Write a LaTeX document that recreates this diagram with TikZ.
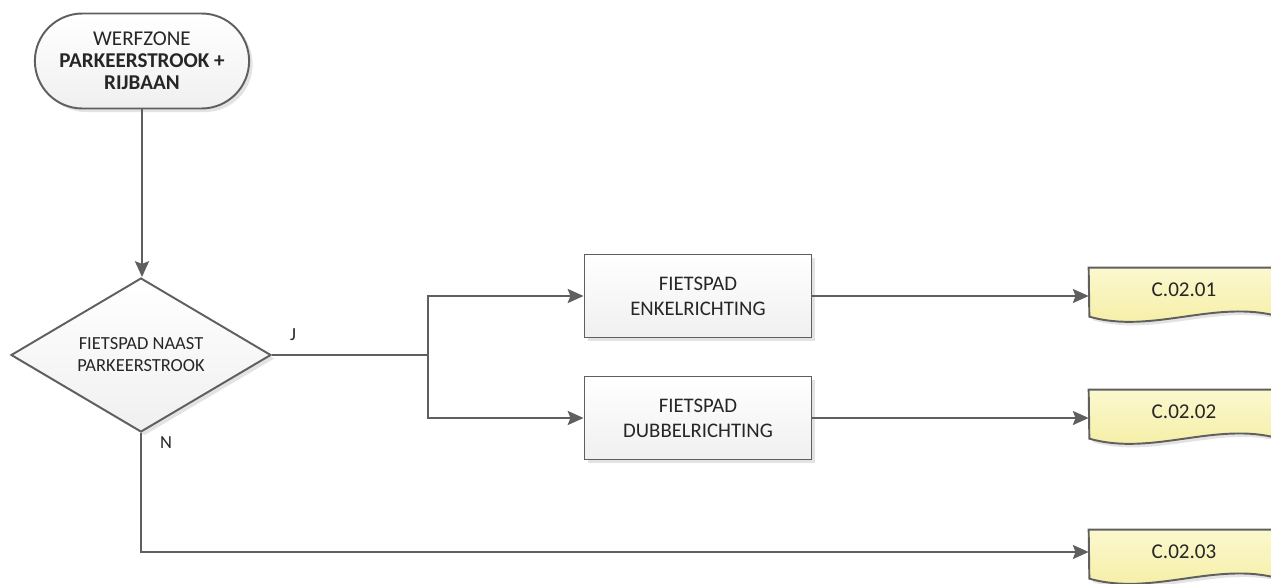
\documentclass[tikz,border=0pt]{standalone}
\usepackage{fontspec}
\setmainfont{Carlito}
\usetikzlibrary{shapes.geometric,shapes.misc,shadows,arrows.meta,backgrounds}
\definecolor{linegray}{HTML}{5F5F5F}
\definecolor{txtgray}{HTML}{262626}
\definecolor{docyellow}{HTML}{F5EDA0}
\definecolor{docyellowlight}{HTML}{FBF8CE}

\tikzset{
  wire/.style={draw=linegray, line width=1.1pt},
  conn/.style={wire, -{Stealth[length=9pt,width=8pt,inset=1.5pt]}},
  softshadow/.style={drop shadow={shadow xshift=2pt, shadow yshift=-2pt, fill=black!11, opacity=1}},
  termbox/.style={rounded rectangle, draw=linegray, line width=1.1pt, top color=white, bottom color=black!6,
    minimum width=4.52cm, minimum height=1.9cm, align=center, text=txtgray,
    font=\fontsize{12}{12.4}\selectfont, softshadow},
  decbox/.style={diamond, draw=linegray, line width=1.1pt, top color=white, bottom color=black!6,
    aspect=1.69, inner sep=0pt, minimum width=5.2cm, minimum height=3.08cm, align=center, text=txtgray,
    font=\fontsize{10.5}{12.5}\selectfont, softshadow},
  procbox/.style={rectangle, draw=linegray, line width=1.1pt, top color=white, bottom color=black!6,
    minimum width=4.54cm, minimum height=1.66cm, align=center, text=txtgray,
    font=\fontsize{11.8}{14.2}\selectfont, softshadow},
  docnode/.style={rectangle, minimum width=3.8cm, minimum height=0.88cm, text=txtgray,
    font=\fontsize{12}{13}\selectfont},
  docline/.style={draw=linegray, line width=1.1pt, top color=docyellowlight, bottom color=docyellow, softshadow},
  answer/.style={text=txtgray, font=\fontsize{10.5}{12}\selectfont, inner sep=1pt}
}

\begin{document}
\begin{tikzpicture}[x=0.02cm, y=-0.02cm]
  \useasboundingbox (0,0) rectangle (1271,584);
  \clip (0,0) rectangle (1271,584);

  % start, decision and the two cycle path cases
  \node[termbox] (werfzone) at (142,61) {WERFZONE\\\textbf{PARKEERSTROOK +}\\\textbf{RIJBAAN}};
  \node[decbox] (naast) at (141,355) {FIETSPAD NAAST\\PARKEERSTROOK};
  \node[procbox] (enkel) at (698,296) {FIETSPAD\\ENKELRICHTING};
  \node[procbox] (dubbel) at (698,418) {FIETSPAD\\DUBBELRICHTING};

  % documents, cut off at the right edge
  \node[docnode] (doc1) at (1184,290) {C.02.01};
  \node[docnode] (doc2) at (1184,412) {C.02.02};
  \node[docnode] (doc3) at (1184,552) {C.02.03};
  \begin{pgfonlayer}{background}
    \foreach \d in {doc1,doc2,doc3}
      \path[docline] (\d.north west) -- (\d.north east) -- ++(0,49)
        .. controls +(-63,-18) and +(63,18) .. ++(-190,0) -- cycle;
  \end{pgfonlayer}

  \node[answer] (lblJ) at (293,335) {J};
  \node[answer] (lblN) at (166,443) {N};
  \coordinate (split) at (428,355);

  % connectors
  \draw[conn] (werfzone.south) -- (werfzone.south |- naast.north);
  \draw[wire] (naast.east) -- (split);
  \draw[conn] (split) |- (enkel.west);
  \draw[conn] (split) |- (dubbel.west);
  \draw[conn] (enkel.east) -- (enkel.east -| doc1.west);
  \draw[conn] (dubbel.east) -- (dubbel.east -| doc2.west);
  \draw[conn] (naast.south) |- (doc3.west);
\end{tikzpicture}
\end{document}
